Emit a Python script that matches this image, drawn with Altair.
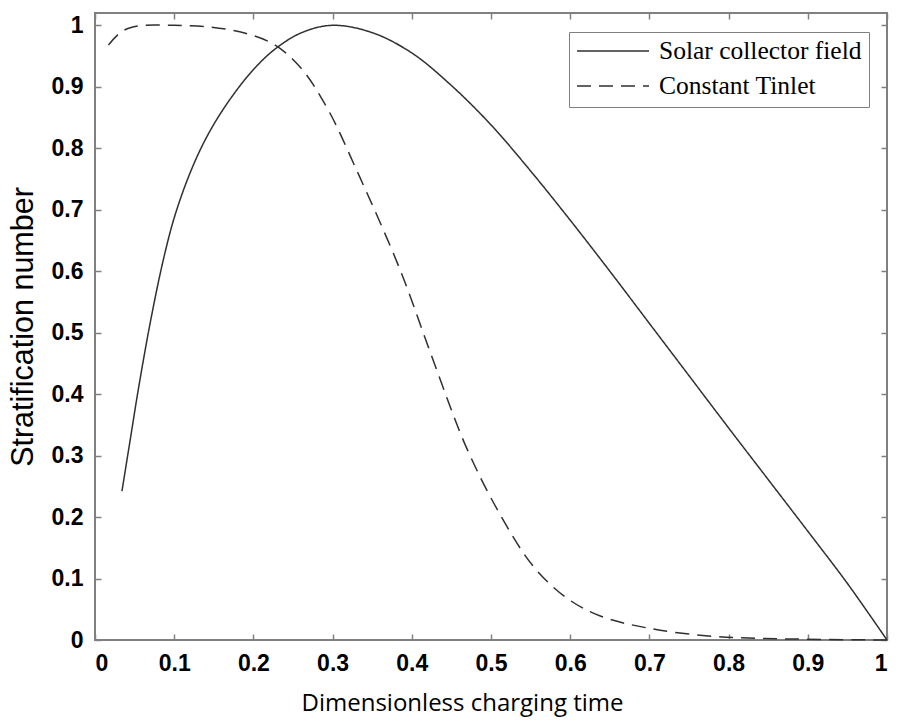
import altair as alt
import pandas as pd

# Solar collector field curve (dimensionless charging time, stratification number)
solar_t = [0.034, 0.045, 0.055, 0.070, 0.086, 0.101, 0.122, 0.143, 0.168, 0.198,
           0.227, 0.261, 0.300, 0.350, 0.400, 0.450, 0.500, 0.550, 0.600, 0.650,
           0.700, 0.750, 0.800, 0.850, 0.900, 0.950, 1.000]
solar_s = [0.242, 0.330, 0.410, 0.518, 0.617, 0.691, 0.766, 0.823, 0.875, 0.925,
           0.961, 0.988, 1.000, 0.988, 0.955, 0.902, 0.838, 0.763, 0.683, 0.600,
           0.515, 0.430, 0.345, 0.261, 0.177, 0.092, 0.000]

# Constant inlet temperature curve
const_t = [0.017, 0.034, 0.055, 0.100, 0.147, 0.190, 0.227, 0.261, 0.295, 0.328,
           0.385, 0.427, 0.469, 0.512, 0.554, 0.596, 0.638, 0.700, 0.780, 0.865, 1.000]
const_s = [0.968, 0.990, 0.999, 1.000, 0.997, 0.987, 0.968, 0.929, 0.861, 0.771,
           0.603, 0.455, 0.313, 0.203, 0.119, 0.068, 0.039, 0.019, 0.006, 0.002, 0.000]

series_names = ["Solar collector field", "Constant Tinlet"]
x_ticks = [0, 0.1, 0.2, 0.3, 0.4, 0.5, 0.6, 0.7, 0.8, 0.9, 1.0]
y_ticks = [0, 0.1, 0.2, 0.3, 0.4, 0.5, 0.6, 0.7, 0.8, 0.9, 1.0]

df = pd.concat([
    pd.DataFrame({"t": solar_t, "s": solar_s, "series": series_names[0], "order": range(len(solar_t))}),
    pd.DataFrame({"t": const_t, "s": const_s, "series": series_names[1], "order": range(len(const_t))}),
])

GRAY = "#808080"
INK = "#303030"

x_scale = alt.Scale(domain=[0, 1], nice=False, zero=False)
y_scale = alt.Scale(domain=[0, 1.02], nice=False)

lines = alt.Chart(df).mark_line(interpolate="catmull-rom", color=INK, strokeWidth=1.5).encode(
    x=alt.X("t:Q", scale=x_scale,
            axis=alt.Axis(orient="bottom", values=x_ticks, format=".1~f",
                          title="Dimensionless charging time",
                          domain=False, grid=False, offset=-6, tickSize=6,
                          tickColor=GRAY, tickWidth=1.5, labelPadding=12,
                          labelFont="Liberation Sans", labelFontWeight="bold",
                          labelFontSize=23, labelColor="black",
                          titleFont="Open Sans", titleFontWeight="normal", titleFontSize=24,
                          titleColor="black", titlePadding=16, titleX=367)),
    y=alt.Y("s:Q", scale=y_scale,
            axis=alt.Axis(orient="left", values=y_ticks, format=".1~f",
                          title="Stratification number",
                          domain=False, grid=False, offset=-6, tickSize=6,
                          tickColor=GRAY, tickWidth=1.5, labelPadding=12,
                          labelFont="Liberation Sans", labelFontWeight="bold",
                          labelFontSize=23, labelColor="black",
                          titleFont="Liberation Sans", titleFontWeight="normal",
                          titleFontSize=30.5, titleColor="black", titlePadding=13)),
    strokeDash=alt.StrokeDash(
        "series:N",
        scale=alt.Scale(domain=series_names, range=[[1, 0], [14, 8]]),
        legend=alt.Legend(title=None, orient="none", legendX=474, legendY=19,
                          symbolType="stroke", symbolSize=5184, symbolStrokeWidth=1.5,
                          symbolStrokeColor=INK, clipHeight=24, rowPadding=9,
                          padding=7, labelOffset=9, labelFont="Liberation Serif",
                          labelFontSize=25.5, labelColor="black", labelLimit=0,
                          fillColor="white", strokeColor=GRAY)),
    order="order:Q",
)

# Inward ticks on the top and right edges of the box
frame = alt.Chart(df).mark_line(opacity=0).encode(
    x=alt.X("t:Q", scale=x_scale,
            axis=alt.Axis(orient="top", values=x_ticks, labels=False, title=None,
                          domain=False, grid=False, offset=-6, tickSize=6,
                          tickColor=GRAY, tickWidth=1.5)),
    y=alt.Y("s:Q", scale=y_scale,
            axis=alt.Axis(orient="right", values=y_ticks, labels=False, title=None,
                          domain=False, grid=False, offset=-6, tickSize=6,
                          tickColor=GRAY, tickWidth=1.5)),
    detail="series:N",
)

chart = alt.layer(lines, frame).resolve_axis(x="independent", y="independent").properties(
    width=792, height=627,
    autosize=alt.AutoSizeParams(type="none"),
    padding={"left": 95, "top": 13, "right": 15, "bottom": 81},
    background="white",
).configure_view(stroke=GRAY, strokeWidth=2)

chart.save("out.html", embed_options={"renderer": "svg", "actions": False})
